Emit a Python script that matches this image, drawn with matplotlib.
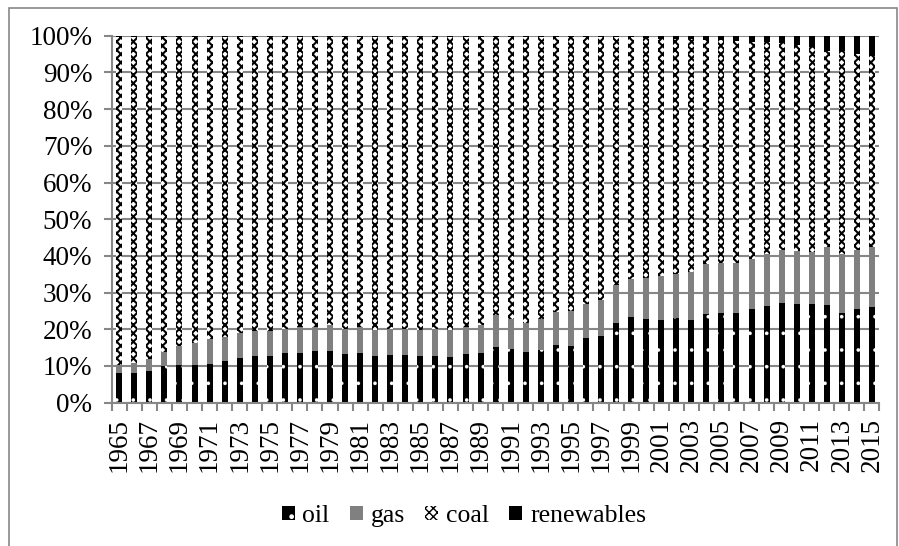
import matplotlib
matplotlib.use("Agg")
import matplotlib.pyplot as plt
from matplotlib.patches import Rectangle
import numpy as np

years = list(range(1965, 2016))

# shares in percent
oil = [8.0, 8.2, 8.6, 10.0, 10.4, 10.4, 10.6, 11.4, 12.3, 12.7,
       12.8, 13.5, 13.6, 14.0, 14.1, 13.4, 13.6, 12.7, 13.0, 12.9,
       12.7, 12.7, 12.5, 13.2, 13.6, 15.1, 14.6, 13.9, 14.4, 15.7,
       15.5, 17.5, 18.2, 21.7, 23.3, 22.7, 22.4, 23.0, 22.6, 24.2,
       24.5, 24.5, 25.6, 26.4, 27.3, 27.0, 26.9, 26.6, 24.5, 25.6,
       26.2]
gas = [2.3, 2.5, 3.2, 3.9, 5.1, 6.0, 6.8, 6.6, 6.8, 6.9,
       6.8, 6.6, 7.0, 6.7, 7.1, 6.7, 7.1, 7.1, 7.0, 7.1,
       7.1, 7.3, 7.3, 7.4, 7.6, 8.8, 8.2, 7.9, 8.4, 9.1,
       9.6, 9.4, 9.8, 10.4, 10.3, 11.3, 12.1, 12.1, 13.0, 13.5,
       13.7, 13.5, 13.5, 14.2, 14.2, 14.4, 14.3, 15.8, 16.0, 16.0,
       16.2]
coal = [89.4, 89.0, 87.9, 85.8, 84.2, 83.3, 82.3, 81.7, 80.6, 80.1,
        80.1, 79.6, 79.1, 79.0, 78.5, 79.6, 79.0, 79.9, 79.7, 79.7,
        79.9, 79.7, 79.9, 79.1, 78.5, 75.8, 76.9, 77.9, 76.9, 74.9,
        74.6, 72.8, 71.7, 67.6, 66.1, 65.3, 64.7, 63.9, 63.4, 61.2,
        60.6, 60.5, 59.2, 57.6, 56.4, 56.0, 55.8, 53.5, 55.3, 53.4,
        52.2]
renewables = [0.3] * 35 + [0.7, 0.8, 1.0, 1.0, 1.1, 1.2, 1.5, 1.7, 1.8, 2.1,
                           2.6, 3.0, 4.1, 4.2, 5.0, 5.4]

series = [oil, gas, coal, renewables]
names = ["oil", "gas", "coal", "renewables"]

data = np.array(series, dtype=float)
data = data / data.sum(axis=0)

plt.rcParams["font.family"] = ["Liberation Serif", "DejaVu Serif"]

fig = plt.figure(figsize=(8.99, 5.46), dpi=100)
ax = fig.add_axes([0.1243, 0.2625, 0.854, 0.672])

x = np.arange(len(years))
styles = [
    dict(color="black", edgecolor="white", hatch=".", linewidth=0),
    dict(color="#808080", linewidth=0),
    dict(color="white", edgecolor="black", hatch="xxxx", linewidth=0),
    dict(color="black", linewidth=0),
]
hatch_lw = [0.2, 1.0, 1.5, 1.0]
bottom = np.zeros(len(years))
for vals, name, st, hlw in zip(data, names, styles, hatch_lw):
    with plt.rc_context({"hatch.linewidth": hlw}):
        bars = ax.bar(x, vals, 0.4, bottom=bottom, label=name, zorder=2, **st)
    for b in bars:
        if hasattr(b, "set_hatch_linewidth"):
            b.set_hatch_linewidth(hlw)
    bottom += vals

grey = "#878787"
ax.set_ylim(0, 1)
ax.set_xlim(-0.5, len(years) - 0.5)
ax.set_yticks(np.arange(0, 1.01, 0.1))
ax.set_yticklabels([f"{int(round(v * 100))}%" for v in np.arange(0, 1.01, 0.1)])
ax.yaxis.grid(True, color=grey, linewidth=1.5, zorder=0)
ax.set_axisbelow(True)

ax.set_xticks(x[::2])
ax.set_xticklabels([str(y) for y in years[::2]], rotation=90)
ax.set_xticks(np.arange(-0.5, len(years), 1), minor=True)
ax.tick_params(axis="x", which="major", length=0, pad=11, labelsize=19.5)
ax.tick_params(axis="x", which="minor", length=6, width=1.5, color=grey)
ax.tick_params(axis="y", length=6, width=1.5, color=grey, labelsize=19.5, pad=8)

for s in ["top", "right"]:
    ax.spines[s].set_visible(False)
for s in ["left", "bottom"]:
    ax.spines[s].set_color(grey)
    ax.spines[s].set_linewidth(1.5)

leg = fig.legend(loc="center", bbox_to_anchor=(0.516, 0.055), ncol=4, frameon=False,
                 fontsize=18.5, handlelength=0.5, handleheight=0.5,
                 handletextpad=0.3, columnspacing=0.8)

fig.patches.append(Rectangle((9 / 899, -0.01), 888 / 899, 1 - 8 / 546 + 0.01,
                             transform=fig.transFigure, fill=False,
                             edgecolor=grey, linewidth=1.2))

fig.savefig("out.png", dpi=100)
